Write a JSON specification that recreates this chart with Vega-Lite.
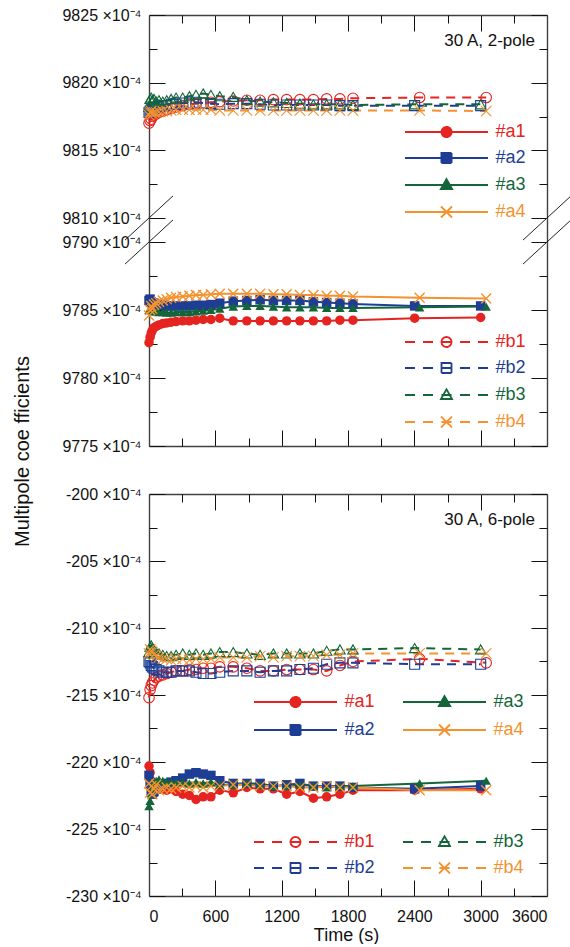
{
  "$schema": "https://vega.github.io/schema/vega-lite/v6.json",
  "background": "white",
  "padding": {"left": 12, "top": 7, "right": 0, "bottom": 0},
  "config": {
    "font": "Liberation Sans",
    "view": {"stroke": null},
    "axis": {"grid": false, "domainColor": "#404040", "domainWidth": 1.4, "tickColor": "#111111", "tickWidth": 1, "labelFontSize": 16, "labelColor": "#111111", "titleFontSize": 18, "titleFontWeight": "normal", "titleColor": "#111111"},
    "legend": {"labelFont": "Liberation Sans"},
    "title": {"font": "Liberation Sans", "fontWeight": "normal", "color": "#111111"}
  },
  "datasets": {
    "pole2": [
      {"s":"#a1","t":0,"v":9782.6},{"s":"#a1","t":10,"v":9783.0},{"s":"#a1","t":20,"v":9783.3},{"s":"#a1","t":30,"v":9783.5},{"s":"#a1","t":45,"v":9783.7},{"s":"#a1","t":65,"v":9783.8},{"s":"#a1","t":90,"v":9783.9},{"s":"#a1","t":125,"v":9784.0},{"s":"#a1","t":160,"v":9784.05},{"s":"#a1","t":200,"v":9784.1},{"s":"#a1","t":245,"v":9784.15},{"s":"#a1","t":305,"v":9784.2},{"s":"#a1","t":365,"v":9784.2},{"s":"#a1","t":425,"v":9784.25},{"s":"#a1","t":490,"v":9784.3},{"s":"#a1","t":560,"v":9784.3},{"s":"#a1","t":640,"v":9784.4},{"s":"#a1","t":762,"v":9784.2},{"s":"#a1","t":885,"v":9784.2},{"s":"#a1","t":1005,"v":9784.2},{"s":"#a1","t":1125,"v":9784.2},{"s":"#a1","t":1245,"v":9784.2},{"s":"#a1","t":1365,"v":9784.2},{"s":"#a1","t":1487,"v":9784.2},{"s":"#a1","t":1607,"v":9784.2},{"s":"#a1","t":1727,"v":9784.25},{"s":"#a1","t":1845,"v":9784.25},{"s":"#a1","t":2403,"v":9784.4},{"s":"#a1","t":3000,"v":9784.45},
      {"s":"#a2","t":0,"v":9785.7},{"s":"#a2","t":10,"v":9785.8},{"s":"#a2","t":20,"v":9785.6},{"s":"#a2","t":30,"v":9785.5},{"s":"#a2","t":45,"v":9785.5},{"s":"#a2","t":65,"v":9785.4},{"s":"#a2","t":90,"v":9785.4},{"s":"#a2","t":125,"v":9785.35},{"s":"#a2","t":160,"v":9785.3},{"s":"#a2","t":200,"v":9785.3},{"s":"#a2","t":245,"v":9785.3},{"s":"#a2","t":305,"v":9785.3},{"s":"#a2","t":365,"v":9785.3},{"s":"#a2","t":425,"v":9785.35},{"s":"#a2","t":490,"v":9785.35},{"s":"#a2","t":560,"v":9785.4},{"s":"#a2","t":640,"v":9785.5},{"s":"#a2","t":762,"v":9785.65},{"s":"#a2","t":885,"v":9785.7},{"s":"#a2","t":1005,"v":9785.75},{"s":"#a2","t":1125,"v":9785.7},{"s":"#a2","t":1245,"v":9785.7},{"s":"#a2","t":1365,"v":9785.7},{"s":"#a2","t":1487,"v":9785.6},{"s":"#a2","t":1607,"v":9785.55},{"s":"#a2","t":1727,"v":9785.5},{"s":"#a2","t":1845,"v":9785.45},{"s":"#a2","t":2403,"v":9785.3},{"s":"#a2","t":3000,"v":9785.3},
      {"s":"#a3","t":0,"v":9785.0},{"s":"#a3","t":10,"v":9785.1},{"s":"#a3","t":20,"v":9785.0},{"s":"#a3","t":30,"v":9784.95},{"s":"#a3","t":45,"v":9784.9},{"s":"#a3","t":65,"v":9784.9},{"s":"#a3","t":90,"v":9784.85},{"s":"#a3","t":125,"v":9784.85},{"s":"#a3","t":160,"v":9784.8},{"s":"#a3","t":200,"v":9784.8},{"s":"#a3","t":245,"v":9784.85},{"s":"#a3","t":305,"v":9784.85},{"s":"#a3","t":365,"v":9784.85},{"s":"#a3","t":425,"v":9784.9},{"s":"#a3","t":490,"v":9784.95},{"s":"#a3","t":560,"v":9785.0},{"s":"#a3","t":640,"v":9785.1},{"s":"#a3","t":762,"v":9785.25},{"s":"#a3","t":885,"v":9785.3},{"s":"#a3","t":1005,"v":9785.3},{"s":"#a3","t":1125,"v":9785.25},{"s":"#a3","t":1245,"v":9785.2},{"s":"#a3","t":1365,"v":9785.2},{"s":"#a3","t":1487,"v":9785.2},{"s":"#a3","t":1607,"v":9785.15},{"s":"#a3","t":1727,"v":9785.15},{"s":"#a3","t":1845,"v":9785.15},{"s":"#a3","t":2448,"v":9785.2},{"s":"#a3","t":3050,"v":9785.25},
      {"s":"#a4","t":0,"v":9784.6},{"s":"#a4","t":10,"v":9785.0},{"s":"#a4","t":20,"v":9785.3},{"s":"#a4","t":30,"v":9785.1},{"s":"#a4","t":45,"v":9785.4},{"s":"#a4","t":65,"v":9785.5},{"s":"#a4","t":90,"v":9785.6},{"s":"#a4","t":125,"v":9785.7},{"s":"#a4","t":160,"v":9785.8},{"s":"#a4","t":200,"v":9785.9},{"s":"#a4","t":245,"v":9785.95},{"s":"#a4","t":305,"v":9786.0},{"s":"#a4","t":365,"v":9786.05},{"s":"#a4","t":425,"v":9786.1},{"s":"#a4","t":490,"v":9786.1},{"s":"#a4","t":560,"v":9786.15},{"s":"#a4","t":640,"v":9786.2},{"s":"#a4","t":762,"v":9786.2},{"s":"#a4","t":885,"v":9786.2},{"s":"#a4","t":1005,"v":9786.2},{"s":"#a4","t":1125,"v":9786.15},{"s":"#a4","t":1245,"v":9786.15},{"s":"#a4","t":1365,"v":9786.1},{"s":"#a4","t":1487,"v":9786.1},{"s":"#a4","t":1607,"v":9786.05},{"s":"#a4","t":1727,"v":9786.05},{"s":"#a4","t":1845,"v":9786.0},{"s":"#a4","t":2448,"v":9785.9},{"s":"#a4","t":3050,"v":9785.85},
      {"s":"#b1","t":0,"v":9817.0},{"s":"#b1","t":10,"v":9817.2},{"s":"#b1","t":20,"v":9817.3},{"s":"#b1","t":30,"v":9817.5},{"s":"#b1","t":45,"v":9817.6},{"s":"#b1","t":65,"v":9817.7},{"s":"#b1","t":90,"v":9817.8},{"s":"#b1","t":125,"v":9817.9},{"s":"#b1","t":160,"v":9818.0},{"s":"#b1","t":200,"v":9818.1},{"s":"#b1","t":245,"v":9818.2},{"s":"#b1","t":305,"v":9818.3},{"s":"#b1","t":365,"v":9818.4},{"s":"#b1","t":425,"v":9818.45},{"s":"#b1","t":490,"v":9818.5},{"s":"#b1","t":560,"v":9818.55},{"s":"#b1","t":640,"v":9818.6},{"s":"#b1","t":762,"v":9818.65},{"s":"#b1","t":885,"v":9818.7},{"s":"#b1","t":1005,"v":9818.7},{"s":"#b1","t":1125,"v":9818.75},{"s":"#b1","t":1245,"v":9818.75},{"s":"#b1","t":1365,"v":9818.75},{"s":"#b1","t":1487,"v":9818.75},{"s":"#b1","t":1607,"v":9818.8},{"s":"#b1","t":1727,"v":9818.8},{"s":"#b1","t":1845,"v":9818.85},{"s":"#b1","t":2448,"v":9818.9},{"s":"#b1","t":3050,"v":9818.9},
      {"s":"#b2","t":0,"v":9817.8},{"s":"#b2","t":10,"v":9817.9},{"s":"#b2","t":20,"v":9818.0},{"s":"#b2","t":30,"v":9818.1},{"s":"#b2","t":45,"v":9818.1},{"s":"#b2","t":65,"v":9818.2},{"s":"#b2","t":90,"v":9818.2},{"s":"#b2","t":125,"v":9818.3},{"s":"#b2","t":160,"v":9818.3},{"s":"#b2","t":200,"v":9818.4},{"s":"#b2","t":245,"v":9818.4},{"s":"#b2","t":305,"v":9818.5},{"s":"#b2","t":365,"v":9818.5},{"s":"#b2","t":425,"v":9818.55},{"s":"#b2","t":490,"v":9818.5},{"s":"#b2","t":560,"v":9818.45},{"s":"#b2","t":640,"v":9818.4},{"s":"#b2","t":762,"v":9818.45},{"s":"#b2","t":885,"v":9818.45},{"s":"#b2","t":1005,"v":9818.4},{"s":"#b2","t":1125,"v":9818.35},{"s":"#b2","t":1245,"v":9818.35},{"s":"#b2","t":1365,"v":9818.35},{"s":"#b2","t":1487,"v":9818.35},{"s":"#b2","t":1607,"v":9818.35},{"s":"#b2","t":1727,"v":9818.3},{"s":"#b2","t":1845,"v":9818.3},{"s":"#b2","t":2403,"v":9818.3},{"s":"#b2","t":3000,"v":9818.3},
      {"s":"#b3","t":0,"v":9818.2},{"s":"#b3","t":10,"v":9818.8},{"s":"#b3","t":20,"v":9818.9},{"s":"#b3","t":30,"v":9818.7},{"s":"#b3","t":45,"v":9818.8},{"s":"#b3","t":65,"v":9818.6},{"s":"#b3","t":90,"v":9818.7},{"s":"#b3","t":125,"v":9818.6},{"s":"#b3","t":160,"v":9818.7},{"s":"#b3","t":200,"v":9818.8},{"s":"#b3","t":245,"v":9818.9},{"s":"#b3","t":305,"v":9818.9},{"s":"#b3","t":365,"v":9819.0},{"s":"#b3","t":425,"v":9819.1},{"s":"#b3","t":490,"v":9819.2},{"s":"#b3","t":560,"v":9819.1},{"s":"#b3","t":640,"v":9819.0},{"s":"#b3","t":762,"v":9818.95},{"s":"#b3","t":885,"v":9818.7},{"s":"#b3","t":1005,"v":9818.6},{"s":"#b3","t":1125,"v":9818.55},{"s":"#b3","t":1245,"v":9818.5},{"s":"#b3","t":1365,"v":9818.45},{"s":"#b3","t":1487,"v":9818.4},{"s":"#b3","t":1607,"v":9818.4},{"s":"#b3","t":1727,"v":9818.4},{"s":"#b3","t":1845,"v":9818.35},{"s":"#b3","t":2403,"v":9818.4},{"s":"#b3","t":3000,"v":9818.4},
      {"s":"#b4","t":0,"v":9817.6},{"s":"#b4","t":10,"v":9817.8},{"s":"#b4","t":20,"v":9817.9},{"s":"#b4","t":30,"v":9817.7},{"s":"#b4","t":45,"v":9817.8},{"s":"#b4","t":65,"v":9817.8},{"s":"#b4","t":90,"v":9817.85},{"s":"#b4","t":125,"v":9817.9},{"s":"#b4","t":160,"v":9817.9},{"s":"#b4","t":200,"v":9817.95},{"s":"#b4","t":245,"v":9818.0},{"s":"#b4","t":305,"v":9818.0},{"s":"#b4","t":365,"v":9818.0},{"s":"#b4","t":425,"v":9818.0},{"s":"#b4","t":490,"v":9818.0},{"s":"#b4","t":560,"v":9818.0},{"s":"#b4","t":640,"v":9817.95},{"s":"#b4","t":762,"v":9817.95},{"s":"#b4","t":885,"v":9817.95},{"s":"#b4","t":1005,"v":9817.95},{"s":"#b4","t":1125,"v":9817.95},{"s":"#b4","t":1245,"v":9817.95},{"s":"#b4","t":1365,"v":9817.95},{"s":"#b4","t":1487,"v":9817.95},{"s":"#b4","t":1607,"v":9817.95},{"s":"#b4","t":1727,"v":9817.95},{"s":"#b4","t":1845,"v":9817.95},{"s":"#b4","t":2448,"v":9817.95},{"s":"#b4","t":3050,"v":9817.9}
    ],
    "pole6": [
      {"s":"#a1","t":0,"v":-220.3},{"s":"#a1","t":10,"v":-220.8},{"s":"#a1","t":20,"v":-221.4},{"s":"#a1","t":30,"v":-221.7},{"s":"#a1","t":45,"v":-221.8},{"s":"#a1","t":65,"v":-221.9},{"s":"#a1","t":90,"v":-222.0},{"s":"#a1","t":125,"v":-222.0},{"s":"#a1","t":160,"v":-222.1},{"s":"#a1","t":200,"v":-222.0},{"s":"#a1","t":245,"v":-222.2},{"s":"#a1","t":305,"v":-222.4},{"s":"#a1","t":365,"v":-222.5},{"s":"#a1","t":425,"v":-222.8},{"s":"#a1","t":490,"v":-222.6},{"s":"#a1","t":560,"v":-222.6},{"s":"#a1","t":640,"v":-222.1},{"s":"#a1","t":762,"v":-222.3},{"s":"#a1","t":885,"v":-221.9},{"s":"#a1","t":1005,"v":-222.0},{"s":"#a1","t":1125,"v":-222.0},{"s":"#a1","t":1245,"v":-222.4},{"s":"#a1","t":1365,"v":-222.2},{"s":"#a1","t":1487,"v":-222.7},{"s":"#a1","t":1607,"v":-222.6},{"s":"#a1","t":1727,"v":-222.4},{"s":"#a1","t":1845,"v":-222.1},{"s":"#a1","t":2403,"v":-222.1},{"s":"#a1","t":3000,"v":-222.0},
      {"s":"#a2","t":0,"v":-221.0},{"s":"#a2","t":10,"v":-221.6},{"s":"#a2","t":20,"v":-222.2},{"s":"#a2","t":30,"v":-222.4},{"s":"#a2","t":45,"v":-222.2},{"s":"#a2","t":65,"v":-222.0},{"s":"#a2","t":90,"v":-221.8},{"s":"#a2","t":125,"v":-221.7},{"s":"#a2","t":160,"v":-221.6},{"s":"#a2","t":200,"v":-221.5},{"s":"#a2","t":245,"v":-221.4},{"s":"#a2","t":305,"v":-221.2},{"s":"#a2","t":365,"v":-220.9},{"s":"#a2","t":425,"v":-220.8},{"s":"#a2","t":490,"v":-220.9},{"s":"#a2","t":560,"v":-221.0},{"s":"#a2","t":640,"v":-221.4},{"s":"#a2","t":762,"v":-221.6},{"s":"#a2","t":885,"v":-221.6},{"s":"#a2","t":1005,"v":-221.6},{"s":"#a2","t":1125,"v":-221.8},{"s":"#a2","t":1245,"v":-221.7},{"s":"#a2","t":1365,"v":-221.6},{"s":"#a2","t":1487,"v":-221.8},{"s":"#a2","t":1607,"v":-221.8},{"s":"#a2","t":1727,"v":-221.8},{"s":"#a2","t":1845,"v":-221.9},{"s":"#a2","t":2403,"v":-222.0},{"s":"#a2","t":3000,"v":-221.8},
      {"s":"#a3","t":0,"v":-223.3},{"s":"#a3","t":10,"v":-222.9},{"s":"#a3","t":20,"v":-222.3},{"s":"#a3","t":30,"v":-221.8},{"s":"#a3","t":45,"v":-221.5},{"s":"#a3","t":65,"v":-221.4},{"s":"#a3","t":90,"v":-221.3},{"s":"#a3","t":125,"v":-221.4},{"s":"#a3","t":160,"v":-221.5},{"s":"#a3","t":200,"v":-221.5},{"s":"#a3","t":245,"v":-221.5},{"s":"#a3","t":305,"v":-221.5},{"s":"#a3","t":365,"v":-221.6},{"s":"#a3","t":425,"v":-221.5},{"s":"#a3","t":490,"v":-221.6},{"s":"#a3","t":560,"v":-221.5},{"s":"#a3","t":640,"v":-221.7},{"s":"#a3","t":762,"v":-221.7},{"s":"#a3","t":885,"v":-221.6},{"s":"#a3","t":1005,"v":-221.7},{"s":"#a3","t":1125,"v":-221.8},{"s":"#a3","t":1245,"v":-221.8},{"s":"#a3","t":1365,"v":-221.7},{"s":"#a3","t":1487,"v":-221.8},{"s":"#a3","t":1607,"v":-221.9},{"s":"#a3","t":1727,"v":-221.8},{"s":"#a3","t":1845,"v":-221.8},{"s":"#a3","t":2448,"v":-221.6},{"s":"#a3","t":3050,"v":-221.4},
      {"s":"#a4","t":0,"v":-221.6},{"s":"#a4","t":10,"v":-222.3},{"s":"#a4","t":20,"v":-221.8},{"s":"#a4","t":30,"v":-222.4},{"s":"#a4","t":45,"v":-222.0},{"s":"#a4","t":65,"v":-221.7},{"s":"#a4","t":90,"v":-222.1},{"s":"#a4","t":125,"v":-222.0},{"s":"#a4","t":160,"v":-221.9},{"s":"#a4","t":200,"v":-222.0},{"s":"#a4","t":245,"v":-221.9},{"s":"#a4","t":305,"v":-221.8},{"s":"#a4","t":365,"v":-221.9},{"s":"#a4","t":425,"v":-221.8},{"s":"#a4","t":490,"v":-221.9},{"s":"#a4","t":560,"v":-221.8},{"s":"#a4","t":640,"v":-221.8},{"s":"#a4","t":762,"v":-221.7},{"s":"#a4","t":885,"v":-221.7},{"s":"#a4","t":1005,"v":-221.8},{"s":"#a4","t":1125,"v":-221.8},{"s":"#a4","t":1245,"v":-221.8},{"s":"#a4","t":1365,"v":-221.9},{"s":"#a4","t":1487,"v":-221.9},{"s":"#a4","t":1607,"v":-221.8},{"s":"#a4","t":1727,"v":-221.9},{"s":"#a4","t":1845,"v":-221.9},{"s":"#a4","t":2448,"v":-222.1},{"s":"#a4","t":3050,"v":-222.1},
      {"s":"#b1","t":0,"v":-215.2},{"s":"#b1","t":10,"v":-214.6},{"s":"#b1","t":20,"v":-214.3},{"s":"#b1","t":30,"v":-214.1},{"s":"#b1","t":45,"v":-213.9},{"s":"#b1","t":65,"v":-213.7},{"s":"#b1","t":90,"v":-213.6},{"s":"#b1","t":125,"v":-213.5},{"s":"#b1","t":160,"v":-213.4},{"s":"#b1","t":200,"v":-213.3},{"s":"#b1","t":245,"v":-213.2},{"s":"#b1","t":305,"v":-213.2},{"s":"#b1","t":365,"v":-213.1},{"s":"#b1","t":425,"v":-213.1},{"s":"#b1","t":490,"v":-213.0},{"s":"#b1","t":560,"v":-213.0},{"s":"#b1","t":640,"v":-212.9},{"s":"#b1","t":762,"v":-212.9},{"s":"#b1","t":885,"v":-213.0},{"s":"#b1","t":1005,"v":-213.2},{"s":"#b1","t":1125,"v":-213.2},{"s":"#b1","t":1245,"v":-213.1},{"s":"#b1","t":1365,"v":-213.1},{"s":"#b1","t":1487,"v":-213.1},{"s":"#b1","t":1607,"v":-213.2},{"s":"#b1","t":1727,"v":-212.8},{"s":"#b1","t":1845,"v":-212.5},{"s":"#b1","t":2448,"v":-212.3},{"s":"#b1","t":3050,"v":-212.6},
      {"s":"#b2","t":0,"v":-212.5},{"s":"#b2","t":10,"v":-212.6},{"s":"#b2","t":20,"v":-212.8},{"s":"#b2","t":30,"v":-212.9},{"s":"#b2","t":45,"v":-213.0},{"s":"#b2","t":65,"v":-213.1},{"s":"#b2","t":90,"v":-213.2},{"s":"#b2","t":125,"v":-213.3},{"s":"#b2","t":160,"v":-213.3},{"s":"#b2","t":200,"v":-213.3},{"s":"#b2","t":245,"v":-213.2},{"s":"#b2","t":305,"v":-213.2},{"s":"#b2","t":365,"v":-213.2},{"s":"#b2","t":425,"v":-213.3},{"s":"#b2","t":490,"v":-213.4},{"s":"#b2","t":560,"v":-213.4},{"s":"#b2","t":640,"v":-213.3},{"s":"#b2","t":762,"v":-213.2},{"s":"#b2","t":885,"v":-213.2},{"s":"#b2","t":1005,"v":-213.3},{"s":"#b2","t":1125,"v":-213.2},{"s":"#b2","t":1245,"v":-213.2},{"s":"#b2","t":1365,"v":-213.1},{"s":"#b2","t":1487,"v":-213.0},{"s":"#b2","t":1607,"v":-212.7},{"s":"#b2","t":1727,"v":-212.6},{"s":"#b2","t":1845,"v":-212.6},{"s":"#b2","t":2403,"v":-212.7},{"s":"#b2","t":3000,"v":-212.7},
      {"s":"#b3","t":0,"v":-211.8},{"s":"#b3","t":10,"v":-211.4},{"s":"#b3","t":20,"v":-211.3},{"s":"#b3","t":30,"v":-211.5},{"s":"#b3","t":45,"v":-211.6},{"s":"#b3","t":65,"v":-211.8},{"s":"#b3","t":90,"v":-211.9},{"s":"#b3","t":125,"v":-212.0},{"s":"#b3","t":160,"v":-212.1},{"s":"#b3","t":200,"v":-212.1},{"s":"#b3","t":245,"v":-212.0},{"s":"#b3","t":305,"v":-211.9},{"s":"#b3","t":365,"v":-212.0},{"s":"#b3","t":425,"v":-211.9},{"s":"#b3","t":490,"v":-212.0},{"s":"#b3","t":560,"v":-211.9},{"s":"#b3","t":640,"v":-211.8},{"s":"#b3","t":762,"v":-211.8},{"s":"#b3","t":885,"v":-211.9},{"s":"#b3","t":1005,"v":-212.0},{"s":"#b3","t":1125,"v":-211.9},{"s":"#b3","t":1245,"v":-211.9},{"s":"#b3","t":1365,"v":-211.9},{"s":"#b3","t":1487,"v":-211.9},{"s":"#b3","t":1607,"v":-211.7},{"s":"#b3","t":1727,"v":-211.6},{"s":"#b3","t":1845,"v":-211.6},{"s":"#b3","t":2403,"v":-211.5},{"s":"#b3","t":3000,"v":-211.6},
      {"s":"#b4","t":0,"v":-211.9},{"s":"#b4","t":10,"v":-211.6},{"s":"#b4","t":20,"v":-211.7},{"s":"#b4","t":30,"v":-211.8},{"s":"#b4","t":45,"v":-212.0},{"s":"#b4","t":65,"v":-212.1},{"s":"#b4","t":90,"v":-212.2},{"s":"#b4","t":125,"v":-212.3},{"s":"#b4","t":160,"v":-212.3},{"s":"#b4","t":200,"v":-212.4},{"s":"#b4","t":245,"v":-212.3},{"s":"#b4","t":305,"v":-212.3},{"s":"#b4","t":365,"v":-212.4},{"s":"#b4","t":425,"v":-212.3},{"s":"#b4","t":490,"v":-212.3},{"s":"#b4","t":560,"v":-212.3},{"s":"#b4","t":640,"v":-212.2},{"s":"#b4","t":762,"v":-212.2},{"s":"#b4","t":885,"v":-212.2},{"s":"#b4","t":1005,"v":-212.1},{"s":"#b4","t":1125,"v":-212.2},{"s":"#b4","t":1245,"v":-212.1},{"s":"#b4","t":1365,"v":-212.1},{"s":"#b4","t":1487,"v":-212.1},{"s":"#b4","t":1607,"v":-212.0},{"s":"#b4","t":1727,"v":-212.0},{"s":"#b4","t":1845,"v":-211.9},{"s":"#b4","t":2448,"v":-211.9},{"s":"#b4","t":3050,"v":-211.9}
    ]
  },
  "spacing": 48,
  "bounds": "flush",
  "resolve": {"scale": {"color": "independent"}},
  "vconcat": [
    {
      "width": 398,
      "height": 431,
      "title": {"text": "30 A, 2-pole", "anchor": "end", "frame": "group", "offset": -56, "dx": -12, "baseline": "alphabetic", "fontSize": 17},
      "data": {"name": "pole2"},
      "resolve": {"scale": {"color": "independent"}, "axis": {"x": "independent", "y": "independent"}},
      "layer": [
        {
          "transform": [{"filter": "indexof(datum.s, 'a') > 0"}],
          "mark": {"type": "line", "strokeWidth": 2},
          "encoding": {
            "x": {"field": "t", "type": "quantitative", "scale": {"domain": [0, 3600], "nice": false, "zero": false},
              "axis": {"orient": "bottom", "values": [0,600,1200,1800,2400,3000,3600], "labels": false, "title": null, "tickSize": -16}},
            "y": {"field": "v", "type": "quantitative", "scale": {"domain": [9775, 9790, 9810, 9825], "range": [431, 227, 203, 0], "nice": false, "zero": false},
              "axis": {"orient": "left", "values": [9775,9780,9785,9790,9810,9815,9820,9825], "labelExpr": "datum.value + ' ×10⁻⁴'", "labelPadding": 24, "tickSize": -16,
                "title": "Multipole coe fficients", "titleX": -127, "titleY": 436, "titleAngle": -90, "titleAlign": "center", "titleBaseline": "middle", "titleFontSize": 20}},
            "color": {"field": "s", "type": "nominal",
              "scale": {"domain": ["#a1", "#a2", "#a3", "#a4"], "range": ["#e52421", "#1d3e94", "#14663a", "#f3922f"]},
              "legend": {"title": null, "orient": "none", "legendX": 256, "legendY": 108, "direction": "vertical", "padding": 0,
                "symbolSize": 100, "symbolOffset": 32.5, "symbolStrokeWidth": 2, "labelFontSize": 18, "labelOffset": 40, "rowPadding": 8, "labelLimit": 0,
                "encode": {
                  "symbols": {"update": {
                    "shape": {"signal": "substring(datum.value,2,3) == '1' ? 'M-8.3,0H8.3M-1,0A1,1 0 1 0 1,0A1,1 0 1 0 -1,0Z' : substring(datum.value,2,3) == '2' ? 'M-8.3,0H8.3M-1,-1H1V1H-1Z' : substring(datum.value,2,3) == '3' ? 'M-8.3,0H8.3M0,-1.15L1.1,0.8H-1.1Z' : 'M-8.3,0H8.3M-1.1,-1.1L1.1,1.1M-1.1,1.1L1.1,-1.1'"},
                    "fill": {"signal": "substring(datum.value,2,3) == '1' ? '#e52421' : substring(datum.value,2,3) == '2' ? '#1d3e94' : substring(datum.value,2,3) == '3' ? '#14663a' : '#f3922f'"},
                    "stroke": {"signal": "substring(datum.value,2,3) == '1' ? '#e52421' : substring(datum.value,2,3) == '2' ? '#1d3e94' : substring(datum.value,2,3) == '3' ? '#14663a' : '#f3922f'"},
                    "strokeDash": {"value": [1, 0]},
                    "opacity": {"value": 1}
                  }},
                  "labels": {"update": {"fill": {"signal": "substring(datum.value,2,3) == '1' ? '#e52421' : substring(datum.value,2,3) == '2' ? '#1d3e94' : substring(datum.value,2,3) == '3' ? '#14663a' : '#f3922f'"}}}
                }}
            }
          }
        },
        {
          "transform": [{"filter": "indexof(datum.s, 'b') > 0"}],
          "mark": {"type": "line", "strokeWidth": 2, "strokeDash": [9, 7]},
          "encoding": {
            "x": {"field": "t", "type": "quantitative", "scale": {"domain": [0, 3600], "nice": false, "zero": false},
              "axis": {"orient": "top", "values": [0,600,1200,1800,2400,3000,3600], "labels": false, "title": null, "tickSize": -16}},
            "y": {"field": "v", "type": "quantitative", "scale": {"domain": [9775, 9790, 9810, 9825], "range": [431, 227, 203, 0], "nice": false, "zero": false},
              "axis": {"orient": "right", "values": [9775,9780,9785,9790,9810,9815,9820,9825], "labels": false, "title": null, "tickSize": -16}},
            "color": {"field": "s", "type": "nominal",
              "scale": {"domain": ["#b1", "#b2", "#b3", "#b4"], "range": ["#e52421", "#1d3e94", "#14663a", "#f3922f"]},
              "legend": {"title": null, "orient": "none", "legendX": 256, "legendY": 318, "direction": "vertical", "padding": 0,
                "symbolSize": 100, "symbolOffset": 32.5, "symbolStrokeWidth": 1.8, "labelFontSize": 18, "labelOffset": 40, "rowPadding": 8, "labelLimit": 0,
                "encode": {
                  "symbols": {"update": {
                    "shape": {"signal": "substring(datum.value,2,3) == '1' ? 'M-8.3,0H-6.3M-4.7,0H-2.7M-1,0H1M2.7,0H4.7M6.3,0H8.3M-1,0A1,1 0 1 0 1,0A1,1 0 1 0 -1,0Z' : substring(datum.value,2,3) == '2' ? 'M-8.3,0H-6.3M-4.7,0H-2.7M-1,0H1M2.7,0H4.7M6.3,0H8.3M-1,-1H1V1H-1Z' : substring(datum.value,2,3) == '3' ? 'M-8.3,0H-6.3M-4.7,0H-2.7M-1,0H1M2.7,0H4.7M6.3,0H8.3M0,-1.15L1.1,0.8H-1.1Z' : 'M-8.3,0H-6.3M-4.7,0H-2.7M-1,0H1M2.7,0H4.7M6.3,0H8.3M-1.1,-1.1L1.1,1.1M-1.1,1.1L1.1,-1.1'"},
                    "fill": {"value": "transparent"},
                    "stroke": {"signal": "substring(datum.value,2,3) == '1' ? '#e52421' : substring(datum.value,2,3) == '2' ? '#1d3e94' : substring(datum.value,2,3) == '3' ? '#14663a' : '#f3922f'"},
                    "strokeDash": {"value": [1, 0]},
                    "opacity": {"value": 1}
                  }},
                  "labels": {"update": {"fill": {"signal": "substring(datum.value,2,3) == '1' ? '#e52421' : substring(datum.value,2,3) == '2' ? '#1d3e94' : substring(datum.value,2,3) == '3' ? '#14663a' : '#f3922f'"}}}
                }}
            }
          }
        },
        {
          "transform": [{"filter": "datum.s == '#a1'"}],
          "mark": {"type": "point", "shape": "circle", "filled": true, "size": 90, "opacity": 1},
          "encoding": {
            "x": {"field": "t", "type": "quantitative", "scale": {"domain": [0, 3600], "nice": false, "zero": false},
              "axis": {"orient": "bottom", "values": [300,900,1500,2100,2700,3300], "labels": false, "title": null, "tickSize": -8, "domain": false}},
            "y": {"field": "v", "type": "quantitative", "scale": {"domain": [9775, 9790, 9810, 9825], "range": [431, 227, 203, 0], "nice": false, "zero": false}, "axis": null},
            "color": {"field": "s", "type": "nominal", "scale": {"domain": ["#a1", "#a2", "#a3", "#a4"], "range": ["#e52421", "#1d3e94", "#14663a", "#f3922f"]}, "legend": null}
          }
        },
        {
          "transform": [{"filter": "datum.s == '#a2'"}],
          "mark": {"type": "point", "shape": "square", "filled": true, "size": 90, "opacity": 1},
          "encoding": {
            "x": {"field": "t", "type": "quantitative", "scale": {"domain": [0, 3600], "nice": false, "zero": false},
              "axis": {"orient": "top", "values": [300,900,1500,2100,2700,3300], "labels": false, "title": null, "tickSize": -8, "domain": false}},
            "y": {"field": "v", "type": "quantitative", "scale": {"domain": [9775, 9790, 9810, 9825], "range": [431, 227, 203, 0], "nice": false, "zero": false}, "axis": null},
            "color": {"field": "s", "type": "nominal", "scale": {"domain": ["#a1", "#a2", "#a3", "#a4"], "range": ["#e52421", "#1d3e94", "#14663a", "#f3922f"]}, "legend": null}
          }
        },
        {
          "transform": [{"filter": "datum.s == '#a3'"}],
          "mark": {"type": "point", "shape": "triangle-up", "filled": true, "size": 90, "opacity": 1},
          "encoding": {
            "x": {"field": "t", "type": "quantitative", "scale": {"domain": [0, 3600], "nice": false, "zero": false}, "axis": null},
            "y": {"field": "v", "type": "quantitative", "scale": {"domain": [9775, 9790, 9810, 9825], "range": [431, 227, 203, 0], "nice": false, "zero": false},
              "axis": {"orient": "left", "values": [9777.5,9782.5,9787.5,9812.5,9817.5,9822.5], "labels": false, "title": null, "tickSize": -8, "domain": false}},
            "color": {"field": "s", "type": "nominal", "scale": {"domain": ["#a1", "#a2", "#a3", "#a4"], "range": ["#e52421", "#1d3e94", "#14663a", "#f3922f"]}, "legend": null}
          }
        },
        {
          "transform": [{"filter": "datum.s == '#a4'"}],
          "mark": {"type": "point", "shape": "M-1,-1L1,1M-1,1L1,-1", "filled": false, "size": 100, "strokeWidth": 1.4, "opacity": 1},
          "encoding": {
            "x": {"field": "t", "type": "quantitative", "scale": {"domain": [0, 3600], "nice": false, "zero": false}, "axis": null},
            "y": {"field": "v", "type": "quantitative", "scale": {"domain": [9775, 9790, 9810, 9825], "range": [431, 227, 203, 0], "nice": false, "zero": false},
              "axis": {"orient": "right", "values": [9777.5,9782.5,9787.5,9812.5,9817.5,9822.5], "labels": false, "title": null, "tickSize": -8, "domain": false}},
            "color": {"field": "s", "type": "nominal", "scale": {"domain": ["#a1", "#a2", "#a3", "#a4"], "range": ["#e52421", "#1d3e94", "#14663a", "#f3922f"]}, "legend": null}
          }
        },
        {
          "transform": [{"filter": "datum.s == '#b1'"}],
          "mark": {"type": "point", "shape": "circle", "filled": false, "size": 110, "strokeWidth": 1.1, "opacity": 1},
          "encoding": {
            "x": {"field": "t", "type": "quantitative", "scale": {"domain": [0, 3600], "nice": false, "zero": false}, "axis": null},
            "y": {"field": "v", "type": "quantitative", "scale": {"domain": [9775, 9790, 9810, 9825], "range": [431, 227, 203, 0], "nice": false, "zero": false}, "axis": null},
            "color": {"field": "s", "type": "nominal", "scale": {"domain": ["#b1", "#b2", "#b3", "#b4"], "range": ["#e52421", "#1d3e94", "#14663a", "#f3922f"]}, "legend": null}
          }
        },
        {
          "transform": [{"filter": "datum.s == '#b2'"}],
          "mark": {"type": "point", "shape": "square", "filled": false, "size": 100, "strokeWidth": 1.1, "opacity": 1},
          "encoding": {
            "x": {"field": "t", "type": "quantitative", "scale": {"domain": [0, 3600], "nice": false, "zero": false}, "axis": null},
            "y": {"field": "v", "type": "quantitative", "scale": {"domain": [9775, 9790, 9810, 9825], "range": [431, 227, 203, 0], "nice": false, "zero": false}, "axis": null},
            "color": {"field": "s", "type": "nominal", "scale": {"domain": ["#b1", "#b2", "#b3", "#b4"], "range": ["#e52421", "#1d3e94", "#14663a", "#f3922f"]}, "legend": null}
          }
        },
        {
          "transform": [{"filter": "datum.s == '#b3'"}],
          "mark": {"type": "point", "shape": "triangle-up", "filled": false, "size": 110, "strokeWidth": 1.1, "opacity": 1},
          "encoding": {
            "x": {"field": "t", "type": "quantitative", "scale": {"domain": [0, 3600], "nice": false, "zero": false}, "axis": null},
            "y": {"field": "v", "type": "quantitative", "scale": {"domain": [9775, 9790, 9810, 9825], "range": [431, 227, 203, 0], "nice": false, "zero": false}, "axis": null},
            "color": {"field": "s", "type": "nominal", "scale": {"domain": ["#b1", "#b2", "#b3", "#b4"], "range": ["#e52421", "#1d3e94", "#14663a", "#f3922f"]}, "legend": null}
          }
        },
        {
          "transform": [{"filter": "datum.s == '#b4'"}],
          "mark": {"type": "point", "shape": "M-1,-1L1,1M-1,1L1,-1", "filled": false, "size": 110, "strokeWidth": 1.1, "opacity": 1},
          "encoding": {
            "x": {"field": "t", "type": "quantitative", "scale": {"domain": [0, 3600], "nice": false, "zero": false}, "axis": null},
            "y": {"field": "v", "type": "quantitative", "scale": {"domain": [9775, 9790, 9810, 9825], "range": [431, 227, 203, 0], "nice": false, "zero": false}, "axis": null},
            "color": {"field": "s", "type": "nominal", "scale": {"domain": ["#b1", "#b2", "#b3", "#b4"], "range": ["#e52421", "#1d3e94", "#14663a", "#f3922f"]}, "legend": null}
          }
        },
        {
          "data": {"values": [{"t": 0, "v": 9790}, {"t": 0, "v": 9810}, {"t": 3600, "v": 9790}, {"t": 3600, "v": 9810}]},
          "mark": {"type": "point", "shape": "M-1,0.92L1,-0.92", "size": 2304, "filled": false, "stroke": "#222222", "strokeWidth": 1, "opacity": 1},
          "encoding": {
            "x": {"field": "t", "type": "quantitative", "scale": {"domain": [0, 3600], "nice": false, "zero": false}, "axis": null},
            "y": {"field": "v", "type": "quantitative", "scale": {"domain": [9775, 9790, 9810, 9825], "range": [431, 227, 203, 0], "nice": false, "zero": false}, "axis": null}
          }
        }
      ]
    },
    {
      "width": 398,
      "height": 402,
      "title": {"text": "30 A, 6-pole", "anchor": "end", "frame": "group", "offset": -56, "dx": -12, "baseline": "alphabetic", "fontSize": 17},
      "data": {"name": "pole6"},
      "resolve": {"scale": {"color": "independent"}, "axis": {"x": "independent", "y": "independent"}},
      "layer": [
        {
          "transform": [{"filter": "indexof(datum.s, 'a') > 0"}],
          "mark": {"type": "line", "strokeWidth": 2},
          "encoding": {
            "x": {"field": "t", "type": "quantitative", "scale": {"domain": [0, 3600], "nice": false, "zero": false},
              "axis": {"orient": "bottom", "values": [0,600,1200,1800,2400,3000,3600], "labelExpr": "'' + datum.value", "labelPadding": 28, "tickSize": -16,
                "title": "Time (s)", "titleFontSize": 18, "titleX": 197, "titleY": 44, "titleAlign": "center", "titleBaseline": "alphabetic"}},
            "y": {"field": "v", "type": "quantitative", "scale": {"domain": [-230, -200], "nice": false, "zero": false},
              "axis": {"orient": "left", "values": [-230,-225,-220,-215,-210,-205,-200], "labelExpr": "datum.value + ' ×10⁻⁴'", "labelPadding": 24, "tickSize": -16, "title": null}},
            "color": {"field": "s", "type": "nominal",
              "scale": {"domain": ["#a1", "#a2", "#a3", "#a4"], "range": ["#e52421", "#1d3e94", "#14663a", "#f3922f"]},
              "legend": {"title": null, "orient": "none", "legendX": 105, "legendY": 199, "columns": 2, "padding": 0,
                "symbolSize": 100, "symbolOffset": 32.5, "symbolStrokeWidth": 2, "labelFontSize": 18, "labelOffset": 40, "rowPadding": 9, "columnPadding": 24, "labelLimit": 0,
                "encode": {
                  "symbols": {"update": {
                    "shape": {"signal": "substring(datum.value,2,3) == '1' ? 'M-8.3,0H8.3M-1,0A1,1 0 1 0 1,0A1,1 0 1 0 -1,0Z' : substring(datum.value,2,3) == '2' ? 'M-8.3,0H8.3M-1,-1H1V1H-1Z' : substring(datum.value,2,3) == '3' ? 'M-8.3,0H8.3M0,-1.15L1.1,0.8H-1.1Z' : 'M-8.3,0H8.3M-1.1,-1.1L1.1,1.1M-1.1,1.1L1.1,-1.1'"},
                    "fill": {"signal": "substring(datum.value,2,3) == '1' ? '#e52421' : substring(datum.value,2,3) == '2' ? '#1d3e94' : substring(datum.value,2,3) == '3' ? '#14663a' : '#f3922f'"},
                    "stroke": {"signal": "substring(datum.value,2,3) == '1' ? '#e52421' : substring(datum.value,2,3) == '2' ? '#1d3e94' : substring(datum.value,2,3) == '3' ? '#14663a' : '#f3922f'"},
                    "strokeDash": {"value": [1, 0]},
                    "opacity": {"value": 1}
                  }},
                  "labels": {"update": {"fill": {"signal": "substring(datum.value,2,3) == '1' ? '#e52421' : substring(datum.value,2,3) == '2' ? '#1d3e94' : substring(datum.value,2,3) == '3' ? '#14663a' : '#f3922f'"}}}
                }}
            }
          }
        },
        {
          "transform": [{"filter": "indexof(datum.s, 'b') > 0"}],
          "mark": {"type": "line", "strokeWidth": 2, "strokeDash": [9, 7]},
          "encoding": {
            "x": {"field": "t", "type": "quantitative", "scale": {"domain": [0, 3600], "nice": false, "zero": false},
              "axis": {"orient": "top", "values": [0,600,1200,1800,2400,3000,3600], "labels": false, "title": null, "tickSize": -16}},
            "y": {"field": "v", "type": "quantitative", "scale": {"domain": [-230, -200], "nice": false, "zero": false},
              "axis": {"orient": "right", "values": [-230,-225,-220,-215,-210,-205,-200], "labels": false, "title": null, "tickSize": -16}},
            "color": {"field": "s", "type": "nominal",
              "scale": {"domain": ["#b1", "#b2", "#b3", "#b4"], "range": ["#e52421", "#1d3e94", "#14663a", "#f3922f"]},
              "legend": {"title": null, "orient": "none", "legendX": 105, "legendY": 339, "columns": 2, "padding": 0,
                "symbolSize": 100, "symbolOffset": 32.5, "symbolStrokeWidth": 1.8, "labelFontSize": 18, "labelOffset": 40, "rowPadding": 7, "columnPadding": 24, "labelLimit": 0,
                "encode": {
                  "symbols": {"update": {
                    "shape": {"signal": "substring(datum.value,2,3) == '1' ? 'M-8.3,0H-6.3M-4.7,0H-2.7M-1,0H1M2.7,0H4.7M6.3,0H8.3M-1,0A1,1 0 1 0 1,0A1,1 0 1 0 -1,0Z' : substring(datum.value,2,3) == '2' ? 'M-8.3,0H-6.3M-4.7,0H-2.7M-1,0H1M2.7,0H4.7M6.3,0H8.3M-1,-1H1V1H-1Z' : substring(datum.value,2,3) == '3' ? 'M-8.3,0H-6.3M-4.7,0H-2.7M-1,0H1M2.7,0H4.7M6.3,0H8.3M0,-1.15L1.1,0.8H-1.1Z' : 'M-8.3,0H-6.3M-4.7,0H-2.7M-1,0H1M2.7,0H4.7M6.3,0H8.3M-1.1,-1.1L1.1,1.1M-1.1,1.1L1.1,-1.1'"},
                    "fill": {"value": "transparent"},
                    "stroke": {"signal": "substring(datum.value,2,3) == '1' ? '#e52421' : substring(datum.value,2,3) == '2' ? '#1d3e94' : substring(datum.value,2,3) == '3' ? '#14663a' : '#f3922f'"},
                    "strokeDash": {"value": [1, 0]},
                    "opacity": {"value": 1}
                  }},
                  "labels": {"update": {"fill": {"signal": "substring(datum.value,2,3) == '1' ? '#e52421' : substring(datum.value,2,3) == '2' ? '#1d3e94' : substring(datum.value,2,3) == '3' ? '#14663a' : '#f3922f'"}}}
                }}
            }
          }
        },
        {
          "transform": [{"filter": "datum.s == '#a1'"}],
          "mark": {"type": "point", "shape": "circle", "filled": true, "size": 90, "opacity": 1},
          "encoding": {
            "x": {"field": "t", "type": "quantitative", "scale": {"domain": [0, 3600], "nice": false, "zero": false},
              "axis": {"orient": "bottom", "values": [300,900,1500,2100,2700,3300], "labels": false, "title": null, "tickSize": -8, "domain": false}},
            "y": {"field": "v", "type": "quantitative", "scale": {"domain": [-230, -200], "nice": false, "zero": false}, "axis": null},
            "color": {"field": "s", "type": "nominal", "scale": {"domain": ["#a1", "#a2", "#a3", "#a4"], "range": ["#e52421", "#1d3e94", "#14663a", "#f3922f"]}, "legend": null}
          }
        },
        {
          "transform": [{"filter": "datum.s == '#a2'"}],
          "mark": {"type": "point", "shape": "square", "filled": true, "size": 90, "opacity": 1},
          "encoding": {
            "x": {"field": "t", "type": "quantitative", "scale": {"domain": [0, 3600], "nice": false, "zero": false},
              "axis": {"orient": "top", "values": [300,900,1500,2100,2700,3300], "labels": false, "title": null, "tickSize": -8, "domain": false}},
            "y": {"field": "v", "type": "quantitative", "scale": {"domain": [-230, -200], "nice": false, "zero": false}, "axis": null},
            "color": {"field": "s", "type": "nominal", "scale": {"domain": ["#a1", "#a2", "#a3", "#a4"], "range": ["#e52421", "#1d3e94", "#14663a", "#f3922f"]}, "legend": null}
          }
        },
        {
          "transform": [{"filter": "datum.s == '#a3'"}],
          "mark": {"type": "point", "shape": "triangle-up", "filled": true, "size": 90, "opacity": 1},
          "encoding": {
            "x": {"field": "t", "type": "quantitative", "scale": {"domain": [0, 3600], "nice": false, "zero": false}, "axis": null},
            "y": {"field": "v", "type": "quantitative", "scale": {"domain": [-230, -200], "nice": false, "zero": false},
              "axis": {"orient": "left", "values": [-227.5,-222.5,-217.5,-212.5,-207.5,-202.5], "labels": false, "title": null, "tickSize": -8, "domain": false}},
            "color": {"field": "s", "type": "nominal", "scale": {"domain": ["#a1", "#a2", "#a3", "#a4"], "range": ["#e52421", "#1d3e94", "#14663a", "#f3922f"]}, "legend": null}
          }
        },
        {
          "transform": [{"filter": "datum.s == '#a4'"}],
          "mark": {"type": "point", "shape": "M-1,-1L1,1M-1,1L1,-1", "filled": false, "size": 100, "strokeWidth": 1.4, "opacity": 1},
          "encoding": {
            "x": {"field": "t", "type": "quantitative", "scale": {"domain": [0, 3600], "nice": false, "zero": false}, "axis": null},
            "y": {"field": "v", "type": "quantitative", "scale": {"domain": [-230, -200], "nice": false, "zero": false},
              "axis": {"orient": "right", "values": [-227.5,-222.5,-217.5,-212.5,-207.5,-202.5], "labels": false, "title": null, "tickSize": -8, "domain": false}},
            "color": {"field": "s", "type": "nominal", "scale": {"domain": ["#a1", "#a2", "#a3", "#a4"], "range": ["#e52421", "#1d3e94", "#14663a", "#f3922f"]}, "legend": null}
          }
        },
        {
          "transform": [{"filter": "datum.s == '#b1'"}],
          "mark": {"type": "point", "shape": "circle", "filled": false, "size": 110, "strokeWidth": 1.1, "opacity": 1},
          "encoding": {
            "x": {"field": "t", "type": "quantitative", "scale": {"domain": [0, 3600], "nice": false, "zero": false}, "axis": null},
            "y": {"field": "v", "type": "quantitative", "scale": {"domain": [-230, -200], "nice": false, "zero": false}, "axis": null},
            "color": {"field": "s", "type": "nominal", "scale": {"domain": ["#b1", "#b2", "#b3", "#b4"], "range": ["#e52421", "#1d3e94", "#14663a", "#f3922f"]}, "legend": null}
          }
        },
        {
          "transform": [{"filter": "datum.s == '#b2'"}],
          "mark": {"type": "point", "shape": "square", "filled": false, "size": 100, "strokeWidth": 1.1, "opacity": 1},
          "encoding": {
            "x": {"field": "t", "type": "quantitative", "scale": {"domain": [0, 3600], "nice": false, "zero": false}, "axis": null},
            "y": {"field": "v", "type": "quantitative", "scale": {"domain": [-230, -200], "nice": false, "zero": false}, "axis": null},
            "color": {"field": "s", "type": "nominal", "scale": {"domain": ["#b1", "#b2", "#b3", "#b4"], "range": ["#e52421", "#1d3e94", "#14663a", "#f3922f"]}, "legend": null}
          }
        },
        {
          "transform": [{"filter": "datum.s == '#b3'"}],
          "mark": {"type": "point", "shape": "triangle-up", "filled": false, "size": 110, "strokeWidth": 1.1, "opacity": 1},
          "encoding": {
            "x": {"field": "t", "type": "quantitative", "scale": {"domain": [0, 3600], "nice": false, "zero": false}, "axis": null},
            "y": {"field": "v", "type": "quantitative", "scale": {"domain": [-230, -200], "nice": false, "zero": false}, "axis": null},
            "color": {"field": "s", "type": "nominal", "scale": {"domain": ["#b1", "#b2", "#b3", "#b4"], "range": ["#e52421", "#1d3e94", "#14663a", "#f3922f"]}, "legend": null}
          }
        },
        {
          "transform": [{"filter": "datum.s == '#b4'"}],
          "mark": {"type": "point", "shape": "M-1,-1L1,1M-1,1L1,-1", "filled": false, "size": 110, "strokeWidth": 1.1, "opacity": 1},
          "encoding": {
            "x": {"field": "t", "type": "quantitative", "scale": {"domain": [0, 3600], "nice": false, "zero": false}, "axis": null},
            "y": {"field": "v", "type": "quantitative", "scale": {"domain": [-230, -200], "nice": false, "zero": false}, "axis": null},
            "color": {"field": "s", "type": "nominal", "scale": {"domain": ["#b1", "#b2", "#b3", "#b4"], "range": ["#e52421", "#1d3e94", "#14663a", "#f3922f"]}, "legend": null}
          }
        }
      ]
    }
  ]
}
